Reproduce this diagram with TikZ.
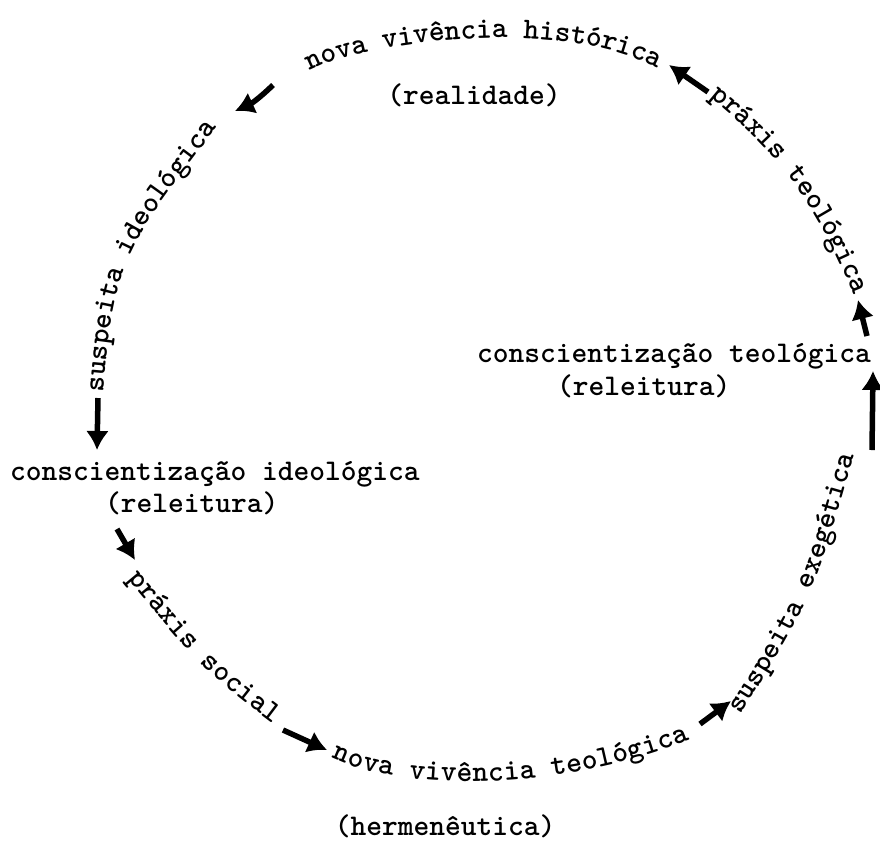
\documentclass[tikz,border=0pt]{standalone}
\usepackage{fontspec}
\usepackage{tikz}
\usetikzlibrary{decorations.text}
\usetikzlibrary{arrows.meta}
\newcommand{\tfont}{\ttfamily\bfseries\fontsize{30}{30}\selectfont}
\tikzset{
    txt/.style={font=\tfont, inner sep=0pt},
    seta/.style={line width=5.5pt, -{Latex[length=19pt, width=23pt]}},
    arco/.style={decorate, decoration={text along path, text align=center, raise=-6.5pt, text={|\tfont|#1}}}
}

\begin{document}
\begin{tikzpicture}[x=1pt, y=1pt]
        \useasboundingbox (0,0) rectangle (880,-855);

        \coordinate (A) at (273,-85);
        \coordinate (B) at (235,-111);
        \coordinate (C) at (98,-398);
        \coordinate (D) at (97,-450);
        \coordinate (E) at (117,-529);
        \coordinate (F) at (135,-560);
        \coordinate (G) at (283,-730);
        \coordinate (H) at (327,-750);
        \coordinate (I) at (700,-724);
        \coordinate (J) at (731,-701);
        \coordinate (K) at (872,-450);
        \coordinate (L) at (873,-371);
        \coordinate (M) at (867,-336);
        \coordinate (N) at (858,-300);
        \coordinate (O) at (708,-92);
        \coordinate (P) at (669,-65);

        \path[arco={nova vivência histórica}] (303,-68) .. controls (345,-38) and (560,-5) .. (665,-65);
        \path[arco={suspeita ideológica}] (96,-402) .. controls (106,-250) and (125,-240) .. (218,-115);
        \path[arco={práxis social}] (122,-562) .. controls (210,-668) .. (290,-728);
        \path[arco={nova vivência teológica}] (322,-745) .. controls (380,-785) and (560,-790) .. (700,-728);
        \path[arco={suspeita exegética}] (728,-722) .. controls (807,-597) .. (851,-441);
        \path[arco={práxis teológica}] (704,-84) .. controls (760,-130) and (815,-175) .. (864,-304);

        \node[txt, anchor=base] (realidade) at (474,-104) {(realidade)};
        \node[txt, anchor=base west] (consid) at (10,-480) {conscientização ideológica};
        \node[txt, anchor=base west] (relid) at (105,-512) {(releitura)};
        \node[txt, anchor=base west] (consteo) at (477,-362) {conscientização teológica};
        \node[txt, anchor=base west] (relteo) at (557,-395) {(releitura)};
        \node[txt, anchor=base] (herm) at (445,-835) {(hermenêutica)};

        \draw[seta] (A) to[bend left=10] (B);
        \draw[seta] (C) -- (D);
        \draw[seta] (E) -- (F);
        \draw[seta] (G) -- (H);
        \draw[seta] (I) -- (J);
        \draw[seta] (K) -- (L);
        \draw[seta] (M) -- (N);
        \draw[seta] (O) -- (P);

    \end{tikzpicture}
\end{document}
